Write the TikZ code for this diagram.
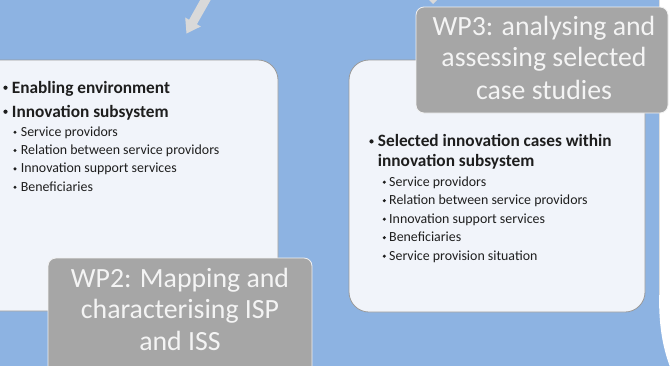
\documentclass[tikz,border=0pt]{standalone}
\usepackage{fontspec}
\setmainfont{Carlito}
\definecolor{bgblue}{HTML}{8DB3E2}
\definecolor{panelfill}{HTML}{F1F4FA}
\definecolor{panelline}{HTML}{9A9A9A}
\definecolor{labelfill}{HTML}{A6A6A6}
\definecolor{labeltext}{HTML}{F4F4F4}
\definecolor{arrowgray}{HTML}{D9D9D9}
\definecolor{bodytext}{HTML}{1E1E1E}
\tikzset{
  panel/.style={draw=panelline, line width=0.8pt, fill=panelfill, rounded corners=20pt, inner sep=0pt},
  wplabel/.style={draw=white!85!labelfill, line width=0.8pt, fill=labelfill, rounded corners=8pt, inner sep=0pt},
  labtxt/.style={anchor=base, inner sep=0pt, text=labeltext, font=\fontsize{27.8}{31}\selectfont},
  mainitem/.style={anchor=base west, inner sep=0pt, text=bodytext, font=\fontsize{17.3}{20}\selectfont\bfseries},
  subitem/.style={anchor=base west, inner sep=0pt, text=bodytext, font=\fontsize{13.9}{17}\selectfont},
  mainbul/.style={circle, fill=bodytext, inner sep=0pt, minimum size=4.2pt},
  subbul/.style={circle, fill=bodytext, inner sep=0pt, minimum size=3.4pt},
}
\begin{document}
\begin{tikzpicture}[x=1pt,y=-1pt]
\useasboundingbox (0,0) rectangle (671,365);
\fill[bgblue] (-2,-2) rectangle (673,367);
\fill[white] (659,-2) -- (673,-2) -- (673,367) -- (670,367) .. controls (662,345) and (659,325) .. (659,295) -- cycle;
\draw[white!75!gray, line width=0.4pt] (659,-2) -- (659,295);

% incoming arrows from above
\fill[arrowgray] (203.5,-6) -- (211.5,-1.5) -- (196.9,24.25) -- (200.8,26.5) -- (186.5,33.5) -- (185.2,17.5) -- (189.1,19.75) -- cycle;
\fill[arrowgray] (428,-1) -- (438,-1) -- (433,4) -- cycle;

% panels
\node[panel, minimum width=298pt, minimum height=251pt] (leftpanel) at (129,185.5) {};
\node[panel, minimum width=296pt, minimum height=252pt] (rightpanel) at (497,186) {};

% left panel text
\node[mainbul] (lb1) at (5.5,87.7) {};
\node[mainitem] (lt1) at (11.7,93) {Enabling environment};
\node[mainbul] (lb2) at (5.5,111.7) {};
\node[mainitem] (lt2) at (11.7,117) {Innovation subsystem};
\node[subbul] (ls1) at (15,132.2) {};
\node[subitem] (lu1) at (20.7,136) {Service providors};
\node[subbul] (ls2) at (15,150.5) {};
\node[subitem] (lu2) at (20.7,154.3) {Relation between service providors};
\node[subbul] (ls3) at (15,168.9) {};
\node[subitem] (lu3) at (20.7,172.7) {Innovation support services};
\node[subbul] (ls4) at (15,187.2) {};
\node[subitem] (lu4) at (20.7,191) {Beneficiaries};

% right panel text
\node[mainbul] (rb1) at (371.5,141.4) {};
\node[mainitem] (rt1) at (377.7,146.7) {Selected innovation cases within};
\node[mainitem] (rt2) at (377.7,166.7) {innovation subsystem};
\node[subbul] (rs1) at (384.3,182.2) {};
\node[subitem] (ru1) at (389,186) {Service providors};
\node[subbul] (rs2) at (384.3,200.7) {};
\node[subitem] (ru2) at (389,204.5) {Relation between service providors};
\node[subbul] (rs3) at (384.3,219.2) {};
\node[subitem] (ru3) at (389,223) {Innovation support services};
\node[subbul] (rs4) at (384.3,237.7) {};
\node[subitem] (ru4) at (389,241.5) {Beneficiaries};
\node[subbul] (rs5) at (384.3,256.2) {};
\node[subitem] (ru5) at (389,260) {Service provision situation};

% WP labels
\node[wplabel, minimum width=264pt, minimum height=116pt] (wp2) at (180,316) {};
\node[labtxt] (wp2a) at (180,287) {WP2: Mapping and};
\node[labtxt] (wp2b) at (180,318.5) {characterising ISP};
\node[labtxt] (wp2c) at (180,350) {and ISS};

\node[wplabel, minimum width=252pt, minimum height=106pt] (wp3) at (542,60) {};
\node[labtxt] (wp3a) at (544,35) {WP3: analysing and};
\node[labtxt] (wp3b) at (544,66.7) {assessing selected};
\node[labtxt] (wp3c) at (544,99) {case studies};
\end{tikzpicture}
\end{document}
